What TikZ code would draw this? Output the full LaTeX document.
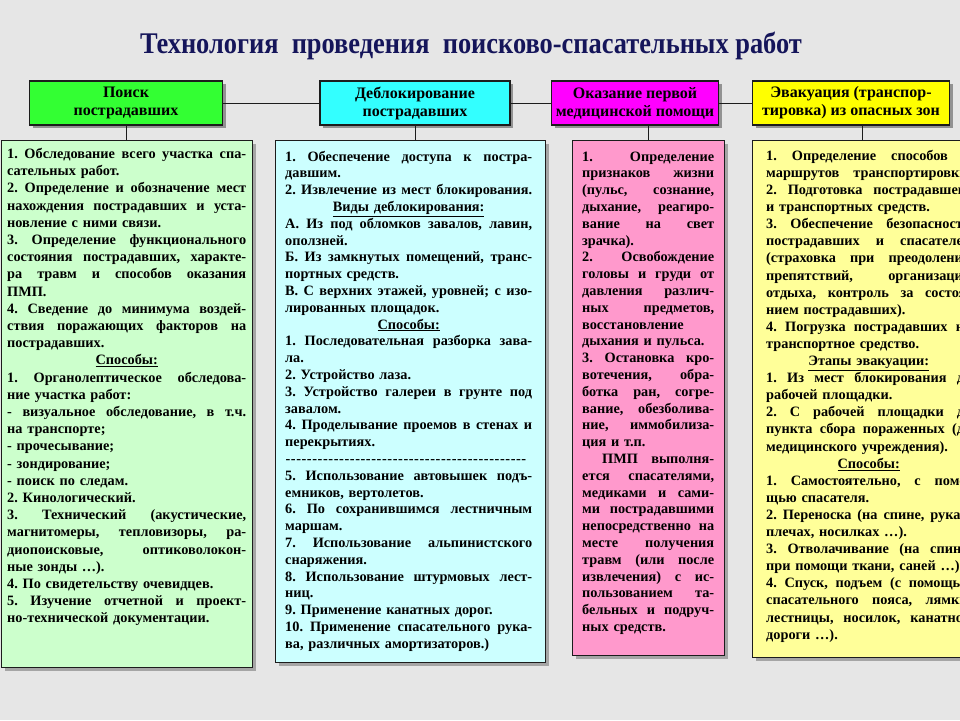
\documentclass[tikz,border=0pt]{standalone}
\usepackage{fontspec}
\setmainfont{Liberation Serif}
\newfontfamily\titlefont{Liberation Serif}[FakeStretch=0.88]
\usetikzlibrary{positioning,shadows}
\definecolor{PanelGray}{HTML}{E6E6E6}
\definecolor{TitleInk}{HTML}{15155A}
\definecolor{FrameInk}{HTML}{1C1C1C}
\definecolor{HeadGreen}{HTML}{33FF33}
\definecolor{HeadCyan}{HTML}{33FFFF}
\definecolor{HeadMagenta}{HTML}{FF00FF}
\definecolor{HeadYellow}{HTML}{FFFF00}
\definecolor{BodyGreen}{HTML}{CCFFCC}
\definecolor{BodyCyan}{HTML}{CCFFFF}
\definecolor{BodyPink}{HTML}{FF99CC}
\definecolor{BodyYellow}{HTML}{FFFF99}
\newcommand{\fullline}[1]{\par\noindent\hbox to\hsize{\spaceskip=0.25em plus 3em minus 0.08em\relax #1}}
\newcommand{\lastline}[1]{\par\noindent#1}
\newcommand{\subhead}[1]{\par\noindent\hbox to\hsize{\hss\underline{#1}\hss}}

\begin{document}
\frenchspacing
\begin{tikzpicture}[
  x=1pt,
  y=-1pt,
  head/.style={draw=FrameInk,line width=1.8pt,minimum height=44pt,align=center,
    inner sep=1pt,font=\fontsize{16}{18}\selectfont\bfseries,
    drop shadow={shadow xshift=3pt,shadow yshift=-3pt,fill=black!75}},
  panel/.style={draw=FrameInk,line width=1.4pt,anchor=north west,inner sep=0pt,
    drop shadow={shadow xshift=3pt,shadow yshift=-3pt,fill=black!60}},
  body/.style={anchor=north west,inner sep=0pt,text=black},
  link/.style={draw=FrameInk,line width=0.9pt}
]
  \fill[PanelGray] (0,0) rectangle (960,720);
  \useasboundingbox (0,0) rectangle (960,720);
  \clip (0,0) rectangle (960,720);

  \node[font=\titlefont\fontsize{30}{34}\selectfont\bfseries,text=TitleInk] (title) at (471,46)
    {Технология\ \ проведения\ \ поисково-спасательных работ};

  % headers
  \node[head,fill=HeadGreen,minimum width=193pt] (hSearch) at (126,103) {Поиск\\пострадавших};
  \node[head,fill=HeadCyan,minimum width=190pt] (hUnblock) at (415,103) {Деблокирование\\пострадавших};
  \node[head,fill=HeadMagenta,minimum width=167pt] (hAid) at (635,103) {Оказание первой\\медицинской помощи};
  \node[head,fill=HeadYellow,minimum width=197pt] (hEvac) at (851,103) {Эвакуация (транспор-\\тировка) из опасных зон};

  % panels
  \node[panel,fill=BodyGreen,minimum width=251pt,minimum height=527pt] (bSearch) at (1,140) {};
  \node[panel,fill=BodyCyan,minimum width=270pt,minimum height=522pt] (bUnblock) at (275,140) {};
  \node[panel,fill=BodyPink,minimum width=152pt,minimum height=515pt] (bAid) at (572,140) {};
  \node[panel,fill=BodyYellow,minimum width=220pt,minimum height=517pt] (bEvac) at (752,140) {};

  \draw[link] (hSearch) -- (hUnblock);
  \draw[link] (hUnblock) -- (hAid);
  \draw[link] (hAid) -- (hEvac);
  \draw[link] (hSearch.south) -- (hSearch.south |- bSearch.north);
  \draw[link] (hUnblock.south) -- (hUnblock.south |- bUnblock.north);
  \draw[link] (bAid.north) -- (bAid.north |- hAid.south);
  \draw[link] (bEvac.north) -- (bEvac.north |- hEvac.south);

  % texts
  \node[body,text width=239pt,font=\fontsize{14.3}{17.2}\selectfont\bfseries] (tSearch) at (7,141) {%
    \fullline{1. Обследование всего участка спа-}
    \lastline{сательных работ.}
    \fullline{2. Определение и обозначение мест}
    \fullline{нахождения пострадавших и уста-}
    \lastline{новление с ними связи.}
    \fullline{3. Определение функционального}
    \fullline{состояния пострадавших, характе-}
    \fullline{ра травм и способов оказания}
    \lastline{ПМП.}
    \fullline{4. Сведение до минимума воздей-}
    \fullline{ствия поражающих факторов на}
    \lastline{пострадавших.}
    \subhead{Способы:}
    \fullline{1. Органолептическое обследова-}
    \lastline{ние участка работ:}
    \fullline{- визуальное обследование, в т.ч.}
    \lastline{на транспорте;}
    \lastline{- прочесывание;}
    \lastline{- зондирование;}
    \lastline{- поиск по следам.}
    \lastline{2. Кинологический.}
    \fullline{3. Технический (акустические,}
    \fullline{магнитомеры, тепловизоры, ра-}
    \fullline{диопоисковые, оптиковолокон-}
    \lastline{ные зонды …).}
    \lastline{4. По свидетельству очевидцев.}
    \fullline{5. Изучение отчетной и проект-}
    \lastline{но-технической документации.}};

  \node[body,text width=247pt,font=\fontsize{14.3}{16.8}\selectfont\bfseries] (tUnblock) at (285,144) {%
    \fullline{1. Обеспечение доступа к постра-}
    \lastline{давшим.}
    \fullline{2. Извлечение из мест блокирования.}
    \subhead{Виды деблокирования:}
    \fullline{А. Из под обломков завалов, лавин,}
    \lastline{оползней.}
    \fullline{Б. Из замкнутых помещений, транс-}
    \lastline{портных средств.}
    \fullline{В. С верхних этажей, уровней; с изо-}
    \lastline{лированных площадок.}
    \subhead{Способы:}
    \fullline{1. Последовательная разборка зава-}
    \lastline{ла.}
    \lastline{2. Устройство лаза.}
    \fullline{3. Устройство галереи в грунте под}
    \lastline{завалом.}
    \fullline{4. Проделывание проемов в стенах и}
    \lastline{перекрытиях.}
    \par\noindent\hbox to 242pt{\cleaders\hbox{-\kern0.6pt}\hfill}
    \fullline{5. Использование автовышек подъ-}
    \lastline{емников, вертолетов.}
    \fullline{6. По сохранившимся лестничным}
    \lastline{маршам.}
    \fullline{7. Использование альпинистского}
    \lastline{снаряжения.}
    \fullline{8. Использование штурмовых лест-}
    \lastline{ниц.}
    \lastline{9. Применение канатных дорог.}
    \fullline{10. Применение спасательного рука-}
    \lastline{ва, различных амортизаторов.)}};

  \node[body,text width=132pt,font=\fontsize{14.3}{16.8}\selectfont\bfseries] (tAid) at (582,144) {%
    \fullline{1. Определение}
    \fullline{признаков жизни}
    \fullline{(пульс, сознание,}
    \fullline{дыхание, реагиро-}
    \fullline{вание на свет}
    \lastline{зрачка).}
    \fullline{2. Освобождение}
    \fullline{головы и груди от}
    \fullline{давления различ-}
    \fullline{ных предметов,}
    \lastline{восстановление}
    \lastline{дыхания и пульса.}
    \fullline{3. Остановка кро-}
    \fullline{вотечения, обра-}
    \fullline{ботка ран, согре-}
    \fullline{вание, обезболива-}
    \fullline{ние, иммобилиза-}
    \lastline{ция и т.п.}
    \fullline{\hspace*{20pt}ПМП выполня-}
    \fullline{ется спасателями,}
    \fullline{медиками и сами-}
    \fullline{ми пострадавшими}
    \fullline{непосредственно на}
    \fullline{месте получения}
    \fullline{травм (или после}
    \fullline{извлечения) с ис-}
    \fullline{пользованием та-}
    \fullline{бельных и подруч-}
    \lastline{ных средств.}};

  \node[body,text width=205pt,font=\fontsize{14.3}{17.1}\selectfont\bfseries] (tEvac) at (766,143) {%
    \fullline{1. Определение способов и}
    \fullline{маршрутов транспортировки.}
    \fullline{2. Подготовка пострадавшего}
    \lastline{и транспортных средств.}
    \fullline{3. Обеспечение безопасности}
    \fullline{пострадавших и спасателей}
    \fullline{(страховка при преодолении}
    \fullline{препятствий, организации}
    \fullline{отдыха, контроль за состоя-}
    \lastline{нием пострадавших).}
    \fullline{4. Погрузка пострадавших на}
    \lastline{транспортное средство.}
    \subhead{Этапы эвакуации:}
    \fullline{1. Из мест блокирования до}
    \lastline{рабочей площадки.}
    \fullline{2. С рабочей площадки до}
    \fullline{пункта сбора пораженных (до}
    \lastline{медицинского учреждения).}
    \subhead{Способы:}
    \fullline{1. Самостоятельно, с помо-}
    \lastline{щью спасателя.}
    \fullline{2. Переноска (на спине, руках,}
    \lastline{плечах, носилках …).}
    \fullline{3. Отволачивание (на спине,}
    \lastline{при помощи ткани, саней …).}
    \fullline{4. Спуск, подъем (с помощью}
    \fullline{спасательного пояса, лямки,}
    \fullline{лестницы, носилок, канатной}
    \lastline{дороги …).}};
\end{tikzpicture}
\end{document}
